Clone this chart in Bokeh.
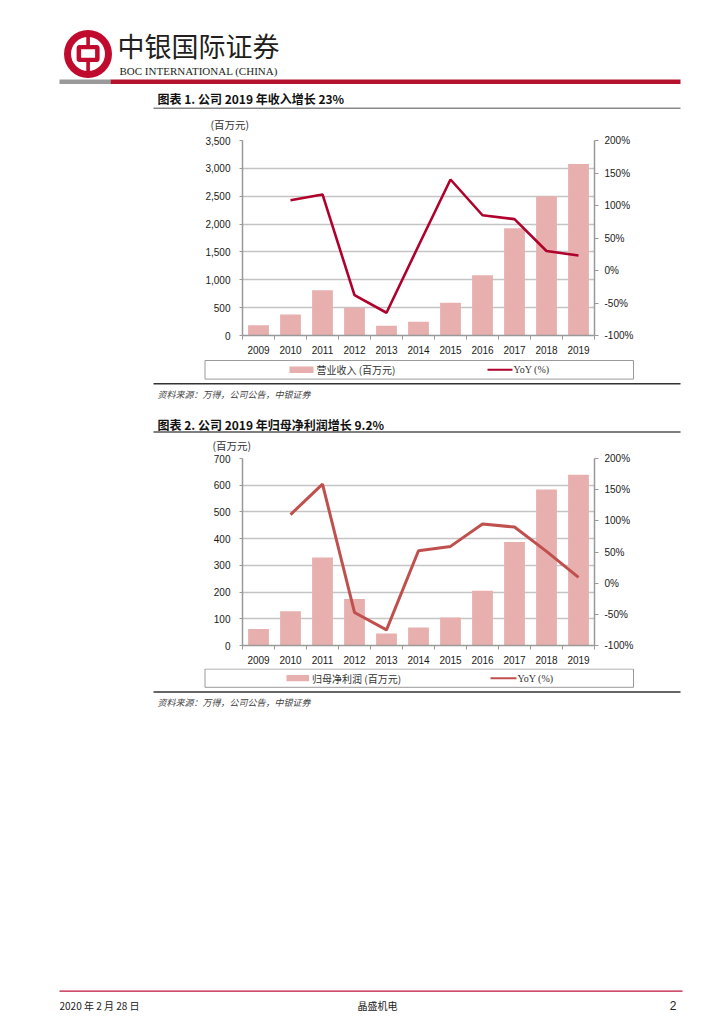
from bokeh.plotting import figure
from bokeh.models import Range1d, LinearAxis, FixedTicker, NumeralTickFormatter, PrintfTickFormatter
from bokeh.layouts import column
from bokeh.embed import file_html
from bokeh.resources import INLINE
from bokeh.core.properties import value

# ---------------- data ----------------
years = ["2009", "2010", "2011", "2012", "2013", "2014", "2015", "2016", "2017", "2018", "2019"]
revenue = [182, 376, 812, 500, 176, 247, 588, 1082, 1924, 2500, 3080]          # 百万元
revenue_yoy = [108, 117, -38, -65, 38, 140, 85, 79, 30, 23]                     # %, 2010-2019
profit = [62, 128, 329, 174, 45, 67, 105, 205, 387, 584, 639]                   # 百万元
profit_yoy = [110, 159, -47, -75, 52, 59, 95, 90, 51, 9.2]                      # %, 2010-2019
revenue_ticks = [0, 500, 1000, 1500, 2000, 2500, 3000, 3500]
profit_ticks = [0, 100, 200, 300, 400, 500, 600, 700]
yoy_ticks = [-100, -50, 0, 50, 100, 150, 200]

title1 = "图表 1. 公司 2019 年收入增长 23%"
title2 = "图表 2. 公司 2019 年归母净利润增长 9.2%"
legend1 = "营业收入 (百万元)"
legend2 = "归母净利润 (百万元)"
legend_yoy = "YoY (%)"
unit_text = "(百万元)"
source_text = "资料来源：万得，公司公告，中银证券"

CJK = value("Noto Sans CJK SC")
SERIF = value("Liberation Serif")
SANS = "Liberation Sans"
BAR = "#E8AFAF"
LINE1 = "#B0002C"
LINE2 = "#C0504D"
RED = "#C00A2E"
W = 708
FRAME_L = 242
FRAME_W = 352


def no_align(p):
    if "frame_align" in p.properties():
        p.frame_align = False
    return p


def strip(top, bottom):
    p = figure(width=W, height=bottom - top, x_range=Range1d(0, W), y_range=Range1d(bottom, top),
               min_border=0, min_border_left=0, min_border_right=0, min_border_top=0, min_border_bottom=0,
               toolbar_location=None, output_backend="svg", x_axis_location=None, y_axis_location=None)
    p.grid.visible = False
    p.outline_line_color = None
    return no_align(p)


def txt(p, x, y, s, size="10px", font=CJK, color="#222222", style="normal", align="left"):
    p.text(x=[x], y=[y], text=[s], text_font=font, text_font_size=size, text_color=color,
           text_baseline="middle", text_align=align, text_font_style=style)


def hline(p, x0, x1, y, color, width):
    p.segment(x0=[x0], x1=[x1], y0=[y], y1=[y], line_color=color, line_width=width)


def legend(p, top, bottom, sw_x0, sw_x1, label, ln_x0, ln_x1, line_color):
    p.quad(left=[204.5], right=[633], top=[top], bottom=[bottom], fill_color="white",
           line_color="#9a9a9a", line_width=1)
    yc = (top + bottom) / 2
    p.quad(left=[sw_x0], right=[sw_x1], top=[yc - 3.2], bottom=[yc + 3.2], fill_color=BAR, line_color=None)
    txt(p, sw_x1 + 3, yc, label, size="10px", color="#333333")
    p.segment(x0=[ln_x0], x1=[ln_x1], y0=[yc], y1=[yc], line_color=line_color, line_width=2)
    txt(p, ln_x1 + 1, yc, legend_yoy, size="10px", font=SERIF, color="#333333")


def chart(height, top_b, bottom_b, vals, yoy, ymax, yticks, line_color, line_width):
    n = len(years)
    xs = list(range(n))
    p = figure(width=W, height=height, x_range=Range1d(-0.5, n - 0.5), y_range=Range1d(0, ymax),
               min_border_left=FRAME_L, min_border_right=W - FRAME_L - FRAME_W, min_border_top=top_b,
               min_border_bottom=bottom_b, toolbar_location=None, output_backend="svg")
    no_align(p)
    p.outline_line_color = None
    p.extra_y_ranges = {"yoy": Range1d(-100, 200)}
    p.vbar(x=xs, top=vals, width=0.65, fill_color=BAR, line_color=None)
    p.line(x=xs[1:], y=yoy, y_range_name="yoy", line_color=line_color, line_width=line_width)

    p.xgrid.visible = False
    p.ygrid.ticker = FixedTicker(ticks=yticks)
    p.ygrid.grid_line_color = "#c4c4c4"
    p.ygrid.grid_line_width = 1.3

    xa = p.xaxis[0]
    xa.ticker = FixedTicker(ticks=xs, minor_ticks=[i - 0.5 for i in range(n + 1)])
    xa.major_label_overrides = {i: y for i, y in enumerate(years)}
    xa.major_tick_line_color = None
    xa.major_tick_in = 0
    xa.major_tick_out = 0
    xa.minor_tick_in = 0
    xa.minor_tick_out = 4
    xa.minor_tick_line_color = "#999999"
    xa.major_label_standoff = 6

    ya = p.yaxis[0]
    ya.ticker = FixedTicker(ticks=yticks)
    ya.formatter = NumeralTickFormatter(format="0,0")
    ya.major_tick_in = 0
    ya.major_tick_out = 3
    ya.major_label_standoff = 9

    ra = LinearAxis(y_range_name="yoy", ticker=FixedTicker(ticks=yoy_ticks),
                    formatter=PrintfTickFormatter(format="%d%%"))
    ra.major_tick_in = 0
    ra.major_tick_out = 4
    ra.major_label_standoff = 6
    p.add_layout(ra, "right")

    for ax in [xa, ya, ra]:
        ax.axis_line_color = "#999999"
        ax.axis_line_width = 1.5
        ax.major_label_text_font = SANS
        ax.major_label_text_font_size = "10px"
        ax.major_label_text_color = "#1a1a1a"
        if ax is not xa:
            ax.major_tick_line_color = "#999999"
            ax.minor_tick_line_color = None
    return p


# ---------------- header strip (page y 0-133) ----------------
h = strip(0, 133)
h.circle(x=[87.5], y=[53.5], radius=24, fill_color=RED, line_color=None)
h.circle(x=[87.5], y=[53.5], radius=17, fill_color="white", line_color=None)
h.rect(x=[87.6], y=[53.5], width=3.6, height=40, fill_color=RED, line_color=None)
h.rect(x=[87.6], y=[53.0], width=23, height=17, fill_color=RED, line_color=None, border_radius=3)
h.rect(x=[87.6], y=[53.0], width=14, height=8.6, fill_color="white", line_color=None)
txt(h, 117, 44.5, "中银国际证券", size="27px", color="#231F20")
txt(h, 119, 70.5, "BOC INTERNATIONAL (CHINA)", size="11px", font=SERIF, color="#231F20")
h.quad(left=[59], right=[110], top=[79], bottom=[83.5], fill_color="#9a9a9a", line_color=None)
h.quad(left=[110], right=[680], top=[79], bottom=[83.5], fill_color="#B5122E", line_color=None)
txt(h, 157, 97.5, title1, size="12px", color="#111111", style="bold")
hline(h, 153, 680, 107.7, "#888888", 1.5)
txt(h, 210, 124, unit_text, size="10.5px", color="#333333")

# ---------------- chart 1 (page y 133-359) ----------------
c1 = chart(226, 7, 24, revenue, revenue_yoy, 3500, revenue_ticks, LINE1, 2.6)

# ---------------- middle strip (page y 359-452) ----------------
m = strip(359, 452)
legend(m, 360, 378.6, 289, 313, legend1, 487, 512, LINE1)
hline(m, 153, 680, 383.2, "#333333", 1.5)
txt(m, 157, 393.6, source_text, size="9px", color="#444444", style="italic")
txt(m, 157, 423.5, title2, size="12px", color="#111111", style="bold")
hline(m, 153, 680, 431.5, "#555555", 1.5)
txt(m, 212, 444.8, unit_text, size="10.5px", color="#333333")

# ---------------- chart 2 (page y 452-668) ----------------
c2 = chart(216, 6, 23, profit, profit_yoy, 700, profit_ticks, LINE2, 3)

# ---------------- bottom strip (page y 668-1012) ----------------
b = strip(668, 1012)
legend(b, 668.5, 686.8, 286, 308.6, legend2, 490, 516, LINE2)
hline(b, 153, 680, 691.4, "#333333", 1.5)
txt(b, 157, 702, source_text, size="9px", color="#444444", style="italic")
hline(b, 59, 682, 990.6, "#C0143C", 1.2)
txt(b, 59, 1004.5, "2020 年 2 月 28 日", size="10px", color="#222222")
txt(b, 377, 1004.5, "晶盛机电", size="10px", color="#222222", align="center")
txt(b, 676, 1004.5, "2", size="12px", font=value(SANS), color="#222222", align="right")

page = column(h, c1, m, c2, b, spacing=0)
open("out.html", "w").write(file_html(page, INLINE))
